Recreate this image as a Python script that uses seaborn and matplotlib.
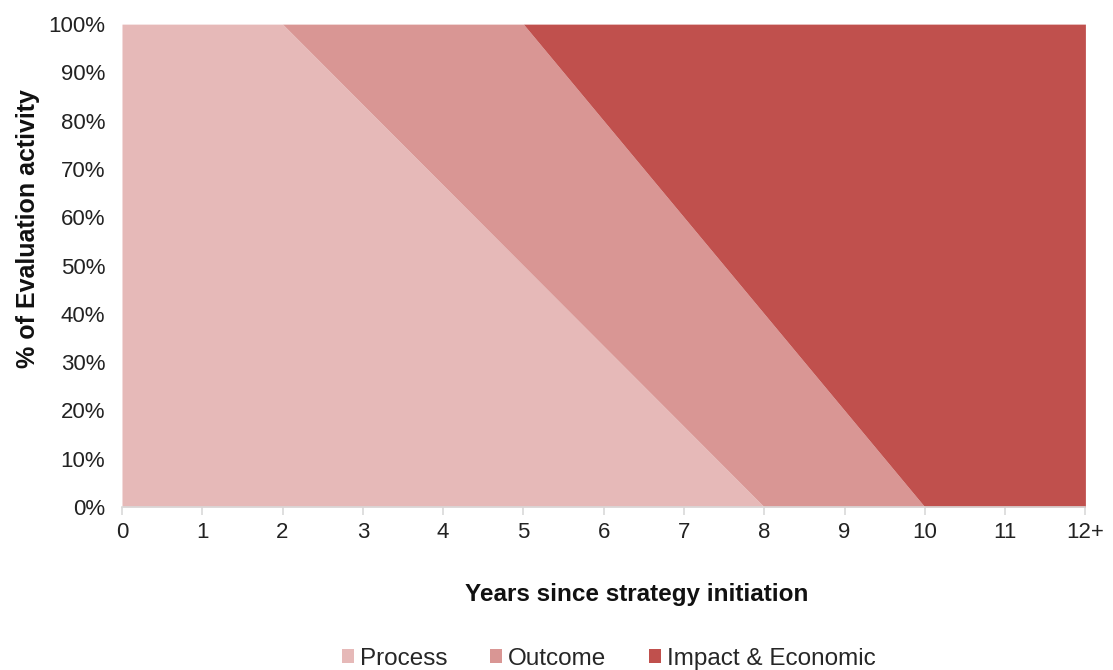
import matplotlib
matplotlib.use("Agg")
import matplotlib.pyplot as plt
import seaborn as sns
import numpy as np
from matplotlib.patches import Patch

years = [0, 1, 2, 3, 4, 5, 6, 7, 8, 9, 10, 11, 12]
year_labels = ["0", "1", "2", "3", "4", "5", "6", "7", "8", "9", "10", "11", "12+"]
process = [100, 100, 100, 83.33, 66.67, 50, 33.33, 16.67, 0, 0, 0, 0, 0]
outcome = [0, 0, 0, 16.67, 33.33, 50, 46.67, 43.33, 40, 20, 0, 0, 0]
impact = [0, 0, 0, 0, 0, 0, 20, 40, 60, 80, 100, 100, 100]
series_names = ["Process", "Outcome", "Impact & Economic"]
colors = ["#E6B9B8", "#D99694", "#C0504D"]
y_ticks = [0, 10, 20, 30, 40, 50, 60, 70, 80, 90, 100]

sns.set_theme(style="white")
plt.rcParams["font.family"] = ["Liberation Sans", "DejaVu Sans"]

fig = plt.figure(figsize=(11.13, 6.70), dpi=100)
ax = fig.add_axes([0.1096, 0.2433, 0.8656, 0.7207])

ax.stackplot(years, process, outcome, impact, colors=colors, linewidth=0)

ax.set_xlim(0, 12)
ax.set_ylim(0, 100)
ax.set_xticks(years)
ax.set_xticklabels(year_labels, fontsize=16, color="#222222")
ax.set_yticks(y_ticks)
ax.set_yticklabels([f"{v}%" for v in y_ticks], fontsize=16, color="#222222")

for s in ["top", "right", "left"]:
    ax.spines[s].set_visible(False)
ax.spines["bottom"].set_color("#D9D9D9")
ax.spines["bottom"].set_linewidth(1.2)
ax.tick_params(axis="x", which="major", length=6, color="#D9D9D9", width=1.2, pad=5, direction="out", bottom=True)
ax.tick_params(axis="y", length=0, pad=12)

ax.set_xlabel("Years since strategy initiation", fontsize=17.5, fontweight="bold", color="#111111")
ax.xaxis.set_label_coords(0.534, -0.158)
ax.set_ylabel("% of Evaluation activity", fontsize=18, fontweight="bold", color="#111111")
ax.yaxis.set_label_coords(-0.085, 0.576)

handles = [Patch(facecolor=c, edgecolor="none", label=n) for c, n in zip(colors, series_names)]
fig.legend(handles=handles, loc="center", bbox_to_anchor=(0.547, 0.017), ncol=3, frameon=False,
           fontsize=17.5, handlelength=0.5, handleheight=0.5, handletextpad=0.25, columnspacing=1.75)

fig.savefig("out.png", dpi=100)
